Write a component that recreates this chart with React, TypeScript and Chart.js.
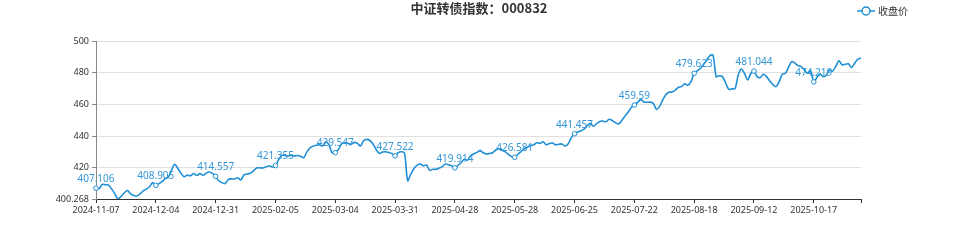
import React, { useEffect, useRef } from 'react';
import { Chart, registerables } from 'chart.js';

Chart.register(...registerables);

const TITLE = '中证转债指数：000832';
const SERIES_NAME = '收盘价';

// Trading calendar (weekdays minus exchange holidays)
const START_DATE = '2024-11-07';
const END_DATE = '2025-11-07';
const HOLIDAYS = [
  '2025-01-01', '2025-01-28', '2025-01-29', '2025-01-30', '2025-01-31', '2025-02-03', '2025-02-04',
  '2025-04-04', '2025-05-01', '2025-05-02', '2025-05-05', '2025-06-02',
  '2025-10-01', '2025-10-02', '2025-10-03', '2025-10-06', '2025-10-07', '2025-10-08',
];

const closeValues = [
  407.106, 406.8, 409.5, 409.3, 409.0, 406.5, 403.5, 400.268, 402.0, 404.2, 405.6, 403.5, 402.5, 402.2, 403.5, 405.4, 406.5, 408.0, 410.6, 408.905,
  410.0, 411.2, 413.2, 414.2, 418.5, 422.2, 419.5, 416.5, 414.3, 415.4, 414.9, 416.4, 415.1, 416.3, 415.3, 416.6, 417.3, 416.4, 414.557, 411.8,
  410.6, 410.0, 412.5, 413.0, 412.9, 413.7, 412.3, 415.5, 416.0, 416.5, 418.0, 419.8, 420.0, 419.8, 420.6, 421.3, 420.5, 421.355, 425.0, 428.0,
  427.6, 427.4, 427.8, 427.5, 427.7, 427.2, 426.4, 430.0, 432.5, 433.7, 434.2, 434.4, 433.8, 436.4, 434.5, 429.5, 429.547, 431.5, 435.0, 435.8,
  435.5, 434.8, 436.0, 435.4, 433.8, 437.0, 437.9, 437.2, 435.0, 431.5, 429.1, 429.9, 430.1, 429.6, 429.0, 427.522, 429.5, 430.1, 429.2, 411.8,
  416.0, 419.5, 421.7, 422.3, 421.2, 421.7, 418.3, 419.0, 419.0, 419.8, 420.7, 422.3, 421.8, 421.2, 419.914, 421.5, 423.2, 425.3, 424.8, 427.5,
  428.8, 429.7, 430.8, 429.5, 428.7, 429.0, 429.5, 431.2, 432.0, 431.0, 430.0, 428.5, 427.0, 426.581, 428.5, 430.2, 431.8, 432.9, 434.0, 434.5,
  435.8, 435.3, 436.4, 434.5, 435.3, 435.6, 434.4, 434.8, 435.0, 433.7, 435.2, 439.0, 441.457, 442.5, 443.2, 444.3, 446.4, 448.0, 446.2, 447.8,
  449.2, 449.5, 449.0, 450.6, 449.8, 448.5, 447.6, 449.8, 452.5, 455.0, 458.0, 459.59, 461.1, 463.0, 461.5, 461.3, 461.4, 460.7, 456.9, 458.6,
  462.8, 466.0, 467.6, 467.8, 469.0, 470.8, 471.2, 473.0, 472.0, 474.3, 479.623, 481.2, 482.8, 485.3, 487.8, 490.8, 491.0, 477.5, 478.1, 477.5,
  473.5, 469.5, 469.8, 470.0, 478.5, 482.3, 479.5, 475.4, 479.5, 481.044, 477.5, 476.9, 479.0, 477.5, 474.8, 472.5, 471.2, 474.3, 479.0, 479.6,
  483.5, 487.0, 486.0, 484.5, 483.8, 481.8, 479.6, 481.1, 474.219, 477.0, 479.3, 477.5, 478.5, 481.7, 481.0, 484.0, 487.5, 485.0, 485.3, 485.6,
  483.2, 486.0, 488.5, 489.2,
];

const yTickValues = [400.268, 420, 440, 460, 480, 500];
const LABEL_EVERY = 19;

const LINE_COLOR = '#1f8fd5';
const LABEL_COLOR = '#3496d8';
const TEXT_COLOR = '#333333';
const FONT_FAMILY = '"Noto Sans", "Noto Sans CJK SC", sans-serif';

function tradingDays(start: string, end: string, holidays: string[]): string[] {
  const out: string[] = [];
  const d = new Date(start + 'T00:00:00Z');
  const e = new Date(end + 'T00:00:00Z');
  while (d <= e) {
    const dow = d.getUTCDay();
    const s = d.toISOString().slice(0, 10);
    if (dow !== 0 && dow !== 6 && !holidays.includes(s)) out.push(s);
    d.setUTCDate(d.getUTCDate() + 1);
  }
  return out;
}

const dates = tradingDays(START_DATE, END_DATE, HOLIDAYS);

const overlayPlugin = {
  id: 'overlay',
  afterDatasetsDraw(chart: any) {
    const ctx = chart.ctx;
    const meta = chart.getDatasetMeta(0);
    ctx.save();
    ctx.font = '10px ' + FONT_FAMILY;
    ctx.fillStyle = LABEL_COLOR;
    ctx.textAlign = 'center';
    ctx.textBaseline = 'bottom';
    meta.data.forEach((pt: any, i: number) => {
      if (i % LABEL_EVERY !== 0) return;
      ctx.fillText(String(closeValues[i]), pt.x, pt.y - 4);
    });
    ctx.restore();
  },
  afterDraw(chart: any) {
    const ctx = chart.ctx;
    const w = chart.width;
    ctx.save();
    // title
    ctx.font = 'bold 13px "Noto Sans CJK SC", sans-serif';
    ctx.fillStyle = TEXT_COLOR;
    ctx.textAlign = 'center';
    ctx.textBaseline = 'middle';
    ctx.fillText(TITLE, w / 2, 8.5);
    // legend
    const ly = 11;
    ctx.strokeStyle = LINE_COLOR;
    ctx.lineWidth = 1.5;
    ctx.beginPath();
    ctx.moveTo(857, ly);
    ctx.lineTo(875, ly);
    ctx.stroke();
    ctx.beginPath();
    ctx.arc(866, ly, 4, 0, Math.PI * 2);
    ctx.fillStyle = '#ffffff';
    ctx.fill();
    ctx.stroke();
    ctx.font = '10px "Noto Sans CJK SC", sans-serif';
    ctx.fillStyle = TEXT_COLOR;
    ctx.textAlign = 'left';
    ctx.fillText(SERIES_NAME, 878, ly);
    ctx.restore();
  },
};

export default function App() {
  const ref = useRef<HTMLCanvasElement | null>(null);

  useEffect(() => {
    document.body.style.margin = '0';
    const canvas = ref.current;
    if (!canvas) return;
    const chart = new Chart(canvas, {
      type: 'line',
      data: {
        labels: dates,
        datasets: [
          {
            label: SERIES_NAME,
            data: closeValues,
            borderColor: LINE_COLOR,
            borderWidth: 1.6,
            tension: 0.3,
            fill: false,
            pointRadius: (c: any) => (c.dataIndex % LABEL_EVERY === 0 ? 2.3 : 0),
            pointHoverRadius: 0,
            pointBackgroundColor: '#ffffff',
            pointBorderColor: LINE_COLOR,
            pointBorderWidth: 1,
          },
        ],
      },
      options: {
        responsive: false,
        animation: false,
        events: [],
        layout: { padding: { top: 41, right: 97, left: 0, bottom: 0 } },
        plugins: {
          legend: { display: false },
          title: { display: false },
          tooltip: { enabled: false },
        },
        scales: {
          x: {
            type: 'category',
            offset: false,
            afterFit: (s: any) => { s.height = 41; },
            grid: {
              display: true,
              drawOnChartArea: false,
              drawTicks: true,
              tickLength: 4,
              tickColor: '#333333',
            },
            border: { display: true, color: '#333333', width: 1 },
            ticks: {
              autoSkip: false,
              maxRotation: 0,
              minRotation: 0,
              padding: 2,
              color: TEXT_COLOR,
              font: { size: 9, family: FONT_FAMILY },
              callback: (_v: any, i: number) => {
                if (i % LABEL_EVERY === 0 && i + 5 < dates.length) return dates[i];
                if (i === dates.length - 1) return '';
                return null;
              },
            },
          },
          y: {
            type: 'linear',
            min: 400.268,
            max: 500,
            afterFit: (s: any) => { s.width = 96; },
            afterBuildTicks: (s: any) => { s.ticks = yTickValues.map((v) => ({ value: v })); },
            grid: {
              color: '#e0e0e0',
              drawTicks: true,
              tickLength: 4,
              tickColor: '#888888',
            },
            border: { display: true, color: '#888888', width: 1 },
            ticks: {
              padding: 3,
              color: TEXT_COLOR,
              font: { size: 9, family: FONT_FAMILY },
              callback: (v: any) => String(v),
            },
          },
        },
      },
      plugins: [overlayPlugin],
    } as any);
    return () => chart.destroy();
  }, []);

  return (
    <div style={{ width: 958, height: 240 }}>
      <canvas ref={ref} width={958} height={240} style={{ display: 'block' }} />
    </div>
  );
}
